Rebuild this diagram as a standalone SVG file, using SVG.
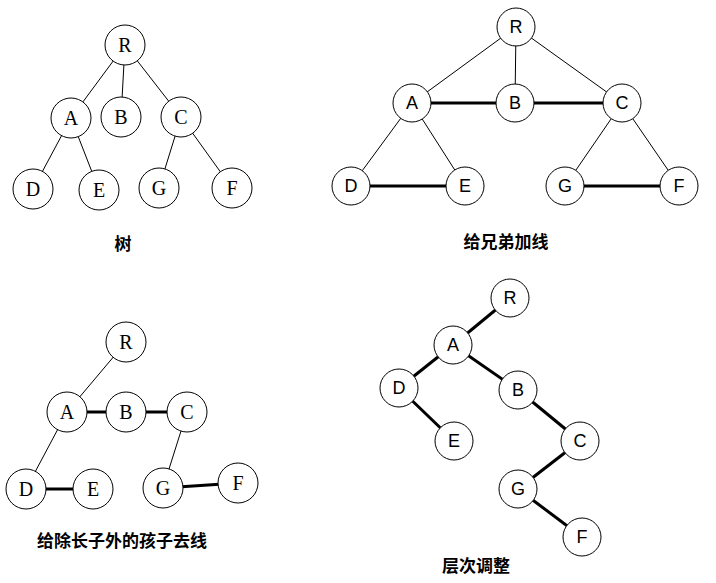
<svg xmlns="http://www.w3.org/2000/svg" width="716" height="583" viewBox="0 0 716 583">
<style>
circle{fill:#fff;stroke:#000;stroke-width:1}
.s{font-family:"Liberation Serif",serif;font-size:20px;text-anchor:middle;dominant-baseline:central}
.a{font-family:"Liberation Sans",sans-serif;font-size:18px;text-anchor:middle;dominant-baseline:central}
.cap{font-family:"Noto Sans CJK SC",sans-serif;font-size:17px;font-weight:bold;text-anchor:middle}
.t{stroke:#000;stroke-width:1}
.k{stroke:#000;stroke-width:3}
</style>
<rect width="716" height="583" fill="#fff"/>
<g id="connectors">
<line class="t" x1="125" y1="45" x2="71" y2="118"/><line class="t" x1="125" y1="45" x2="121" y2="117"/><line class="t" x1="125" y1="45" x2="181" y2="117"/>
<line class="t" x1="71" y1="118" x2="33" y2="189"/><line class="t" x1="71" y1="118" x2="99" y2="190"/><line class="t" x1="181" y1="117" x2="159" y2="188"/><line class="t" x1="181" y1="117" x2="232" y2="188"/>
<line class="t" x1="516" y1="27" x2="412" y2="103"/><line class="t" x1="516" y1="27" x2="515" y2="103"/><line class="t" x1="516" y1="27" x2="622" y2="103"/>
<line class="t" x1="412" y1="103" x2="351" y2="186"/><line class="t" x1="412" y1="103" x2="465" y2="186"/><line class="t" x1="622" y1="103" x2="565" y2="186"/><line class="t" x1="622" y1="103" x2="679" y2="186"/>
<line class="k" x1="412" y1="103" x2="622" y2="103"/><line class="k" x1="351" y1="186" x2="465" y2="186"/><line class="k" x1="565" y1="186" x2="679" y2="186"/>
<line class="t" x1="126" y1="342" x2="67" y2="412"/><line class="t" x1="67" y1="412" x2="26" y2="489"/><line class="t" x1="187" y1="412" x2="163" y2="488"/>
<line class="k" x1="67" y1="412" x2="187" y2="412"/><line class="k" x1="26" y1="489" x2="93" y2="489"/><line class="k" x1="163" y1="488" x2="238" y2="483"/>
<line class="k" x1="510" y1="298" x2="453" y2="345"/><line class="k" x1="453" y1="345" x2="399" y2="388"/><line class="k" x1="453" y1="345" x2="518" y2="390"/><line class="k" x1="399" y1="388" x2="454" y2="441"/><line class="k" x1="518" y1="390" x2="580" y2="441"/><line class="k" x1="580" y1="441" x2="518" y2="489"/><line class="k" x1="518" y1="489" x2="582" y2="537"/>
</g>
<g id="t1">
<g id="t1R"><circle cx="125" cy="45" r="20"/><text class="s" x="125" y="45">R</text></g>
<g id="t1A"><circle cx="71" cy="118" r="20"/><text class="s" x="71" y="118">A</text></g>
<g id="t1B"><circle cx="121" cy="117" r="20"/><text class="s" x="121" y="117">B</text></g>
<g id="t1C"><circle cx="181" cy="117" r="20"/><text class="s" x="181" y="117">C</text></g>
<g id="t1D"><circle cx="33" cy="189" r="20"/><text class="s" x="33" y="189">D</text></g>
<g id="t1E"><circle cx="99" cy="190" r="20"/><text class="s" x="99" y="190">E</text></g>
<g id="t1G"><circle cx="159" cy="188" r="20"/><text class="s" x="159" y="188">G</text></g>
<g id="t1F"><circle cx="232" cy="188" r="20"/><text class="s" x="232" y="188">F</text></g>
</g>
<g id="t2">
<g id="t2R"><circle cx="516" cy="27" r="19"/><text class="a" x="516" y="27">R</text></g>
<g id="t2A"><circle cx="412" cy="103" r="19"/><text class="a" x="412" y="103">A</text></g>
<g id="t2B"><circle cx="515" cy="103" r="19"/><text class="a" x="515" y="103">B</text></g>
<g id="t2C"><circle cx="622" cy="103" r="19"/><text class="a" x="622" y="103">C</text></g>
<g id="t2D"><circle cx="351" cy="186" r="19"/><text class="a" x="351" y="186">D</text></g>
<g id="t2E"><circle cx="465" cy="186" r="19"/><text class="a" x="465" y="186">E</text></g>
<g id="t2G"><circle cx="565" cy="186" r="19"/><text class="a" x="565" y="186">G</text></g>
<g id="t2F"><circle cx="679" cy="186" r="19"/><text class="a" x="679" y="186">F</text></g>
</g>
<g id="t3">
<g id="t3R"><circle cx="126" cy="342" r="20"/><text class="s" x="126" y="342">R</text></g>
<g id="t3A"><circle cx="67" cy="412" r="20"/><text class="s" x="67" y="412">A</text></g>
<g id="t3B"><circle cx="126" cy="412" r="20"/><text class="s" x="126" y="412">B</text></g>
<g id="t3C"><circle cx="187" cy="412" r="20"/><text class="s" x="187" y="412">C</text></g>
<g id="t3D"><circle cx="26" cy="489" r="20"/><text class="s" x="26" y="489">D</text></g>
<g id="t3E"><circle cx="93" cy="489" r="20"/><text class="s" x="93" y="489">E</text></g>
<g id="t3G"><circle cx="163" cy="488" r="20"/><text class="s" x="163" y="488">G</text></g>
<g id="t3F"><circle cx="238" cy="483" r="20"/><text class="s" x="238" y="483">F</text></g>
</g>
<g id="t4">
<g id="t4R"><circle cx="510" cy="298" r="19"/><text class="a" x="510" y="298">R</text></g>
<g id="t4A"><circle cx="453" cy="345" r="19"/><text class="a" x="453" y="345">A</text></g>
<g id="t4D"><circle cx="399" cy="388" r="19"/><text class="a" x="399" y="388">D</text></g>
<g id="t4B"><circle cx="518" cy="390" r="19"/><text class="a" x="518" y="390">B</text></g>
<g id="t4E"><circle cx="454" cy="441" r="19"/><text class="a" x="454" y="441">E</text></g>
<g id="t4C"><circle cx="580" cy="441" r="19"/><text class="a" x="580" y="441">C</text></g>
<g id="t4G"><circle cx="518" cy="489" r="19"/><text class="a" x="518" y="489">G</text></g>
<g id="t4F"><circle cx="582" cy="537" r="19"/><text class="a" x="582" y="537">F</text></g>
</g>
<g id="captions">
<text class="cap" x="123" y="250">树</text>
<text class="cap" x="506" y="248">给兄弟加线</text>
<text class="cap" x="122" y="547">给除长子外的孩子去线</text>
<text class="cap" x="476" y="572">层次调整</text>
</g>
</svg>
